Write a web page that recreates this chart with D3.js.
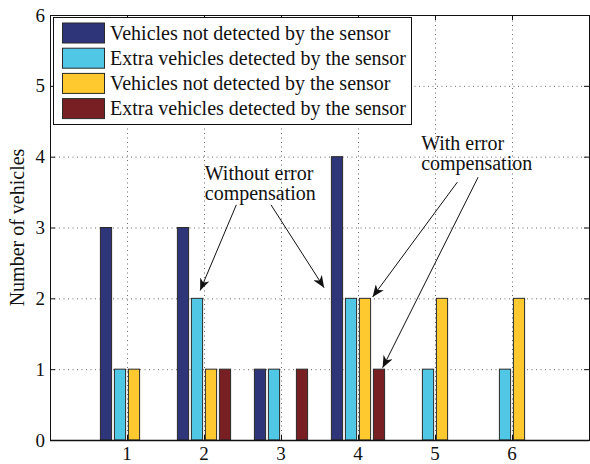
<!DOCTYPE html>
<html>
<head>
<meta charset="utf-8">
<script src="https://cdn.jsdelivr.net/npm/d3@7"></script>
<style>
  html, body { margin: 0; padding: 0; background: #fff; }
  svg { display: block; }
  text { font-family: "Liberation Serif", "Times New Roman", serif; fill: #111; }
</style>
</head>
<body>
<svg id="chart" width="590" height="464"></svg>
<script>
// Vehicle counting errors per test run
const categories = [1, 2, 3, 4, 5, 6];
const seriesNames = [
  "Vehicles not detected by the sensor",
  "Extra vehicles detected by the sensor",
  "Vehicles not detected by the sensor",
  "Extra vehicles detected by the sensor"
];
const missedRaw = [3, 3, 1, 4, 0, 0];
const extraRaw = [1, 2, 1, 2, 1, 1];
const missedComp = [1, 1, 0, 2, 2, 2];
const extraComp = [0, 1, 1, 1, 0, 0];
const seriesValues = [missedRaw, extraRaw, missedComp, extraComp];
const seriesColors = ["#2e3579", "#4fc7e5", "#fec92f", "#781f23"];
const yTicks = [0, 1, 2, 3, 4, 5, 6];

const margin = { left: 50, right: 1, top: 15, bottom: 24 };
const W = 590, H = 464;
const svg = d3.select("#chart");

const x = d3.scaleLinear().domain([0, 7]).range([margin.left, W - margin.right]);
const y = d3.scaleLinear().domain([0, 6]).range([H - margin.bottom, margin.top]);

// MATLAB-style grouped bar geometry
const nSeries = seriesValues.length;
const groupWidth = Math.min(0.8, nSeries / (nSeries + 1.5));
const slot = groupWidth / nSeries;
const barWidth = slot * 0.8;

// Dotted grid
const grid = svg.append("g").attr("stroke", "#444").attr("stroke-width", 0.8)
  .attr("stroke-dasharray", "1,3.5");
grid.selectAll("line.h").data(yTicks.slice(1, -1)).join("line")
  .attr("x1", x(0)).attr("x2", x(7)).attr("y1", d => y(d) + 0.5).attr("y2", d => y(d) + 0.5);
grid.selectAll("line.v").data(categories).join("line")
  .attr("x1", d => Math.round(x(d)) + 0.5).attr("x2", d => Math.round(x(d)) + 0.5)
  .attr("y1", y(0)).attr("y2", y(6));

// Bars
seriesValues.forEach((vals, s) => {
  const offset = -groupWidth / 2 + slot * s + (slot - barWidth) / 2;
  svg.append("g").selectAll("rect").data(vals.map((v, i) => ({ c: categories[i], v })))
    .join("rect")
    .attr("x", d => x(d.c + offset))
    .attr("width", d => x(d.c + offset + barWidth) - x(d.c + offset))
    .attr("y", d => y(d.v))
    .attr("height", d => y(0) - y(d.v))
    .attr("fill", seriesColors[s])
    .attr("stroke", "#2a2a2a")
    .attr("stroke-width", 1);
});

// Axes box with inward ticks
const frame = svg.append("g").attr("stroke", "#111").attr("stroke-width", 1).attr("fill", "none");
frame.append("rect").attr("x", x(0) + 0.5).attr("y", y(6) + 0.5)
  .attr("width", x(7) - x(0)).attr("height", y(0) - y(6));
frame.append("line").attr("x1", x(0)).attr("x2", x(7)).attr("y1", y(0) + 0.5).attr("y2", y(0) + 0.5)
  .attr("stroke-width", 1.6);
const tl = 5;
yTicks.forEach(t => {
  frame.append("line").attr("x1", x(0)).attr("x2", x(0) + tl).attr("y1", y(t) + 0.5).attr("y2", y(t) + 0.5);
  frame.append("line").attr("x1", x(7)).attr("x2", x(7) - tl).attr("y1", y(t) + 0.5).attr("y2", y(t) + 0.5);
});
categories.forEach(t => {
  const px = Math.round(x(t)) + 0.5;
  frame.append("line").attr("x1", px).attr("x2", px).attr("y1", y(0)).attr("y2", y(0) - tl);
  frame.append("line").attr("x1", px).attr("x2", px).attr("y1", y(6)).attr("y2", y(6) + tl);
});

// Tick labels
svg.append("g").selectAll("text").data(yTicks).join("text")
  .attr("x", x(0) - 5).attr("y", d => y(d) + 6.5)
  .attr("text-anchor", "end").attr("font-size", 19).text(d => d);
svg.append("g").selectAll("text").data(categories).join("text")
  .attr("x", d => x(d)).attr("y", y(0) + 20)
  .attr("text-anchor", "middle").attr("font-size", 19).text(d => d);

// Y axis title
svg.append("text")
  .attr("transform", `translate(24, ${(y(0) + y(6)) / 2}) rotate(-90)`)
  .attr("text-anchor", "middle").attr("font-size", 20).text("Number of vehicles");

// Legend
const lg = svg.append("g").attr("transform", `translate(${x(0) + 3}, ${y(6) + 2})`);
lg.append("rect").attr("x", 0.5).attr("y", 0.5).attr("width", 358).attr("height", 107)
  .attr("fill", "#fff").attr("stroke", "#111").attr("stroke-width", 1);
seriesNames.forEach((name, i) => {
  const cy = 16 + i * 25.2;
  lg.append("rect").attr("x", 9.5).attr("y", cy - 10).attr("width", 42).attr("height", 20)
    .attr("fill", seriesColors[i]).attr("stroke", "#2a2a2a").attr("stroke-width", 1);
  lg.append("text").attr("x", 57).attr("y", cy + 6.5).attr("font-size", 20).text(name);
});

// Annotations (data coordinates)
const defs = svg.append("defs");
defs.append("marker").attr("id", "head").attr("viewBox", "0 0 12 10")
  .attr("refX", 12).attr("refY", 5).attr("markerWidth", 12).attr("markerHeight", 10)
  .attr("markerUnits", "userSpaceOnUse").attr("orient", "auto")
  .append("path").attr("d", "M0,0 L12,5 L0,10 L3.5,5 Z").attr("fill", "#111");

const notes = [
  { lines: ["Without error", "compensation"], tx: 2.01, ty: 3.67 },
  { lines: ["With error", "compensation"], tx: 4.82, ty: 4.09 }
];
const arrows = [
  { x1: 2.42, y1: 3.32, x2: 1.95, y2: 2.11 },
  { x1: 2.87, y1: 3.32, x2: 3.56, y2: 2.15 },
  { x1: 5.29, y1: 3.64, x2: 4.19, y2: 2.02 },
  { x1: 5.56, y1: 3.71, x2: 4.32, y2: 1.02 }
];
notes.forEach(n => {
  const t = svg.append("text").attr("font-size", 20);
  n.lines.forEach((l, k) => {
    t.append("tspan").attr("x", x(n.tx)).attr("y", y(n.ty) + k * 20).text(l);
  });
});
svg.append("g").selectAll("line").data(arrows).join("line")
  .attr("x1", d => x(d.x1)).attr("y1", d => y(d.y1))
  .attr("x2", d => x(d.x2)).attr("y2", d => y(d.y2))
  .attr("stroke", "#111").attr("stroke-width", 1)
  .attr("marker-end", "url(#head)");
</script>
</body>
</html>
